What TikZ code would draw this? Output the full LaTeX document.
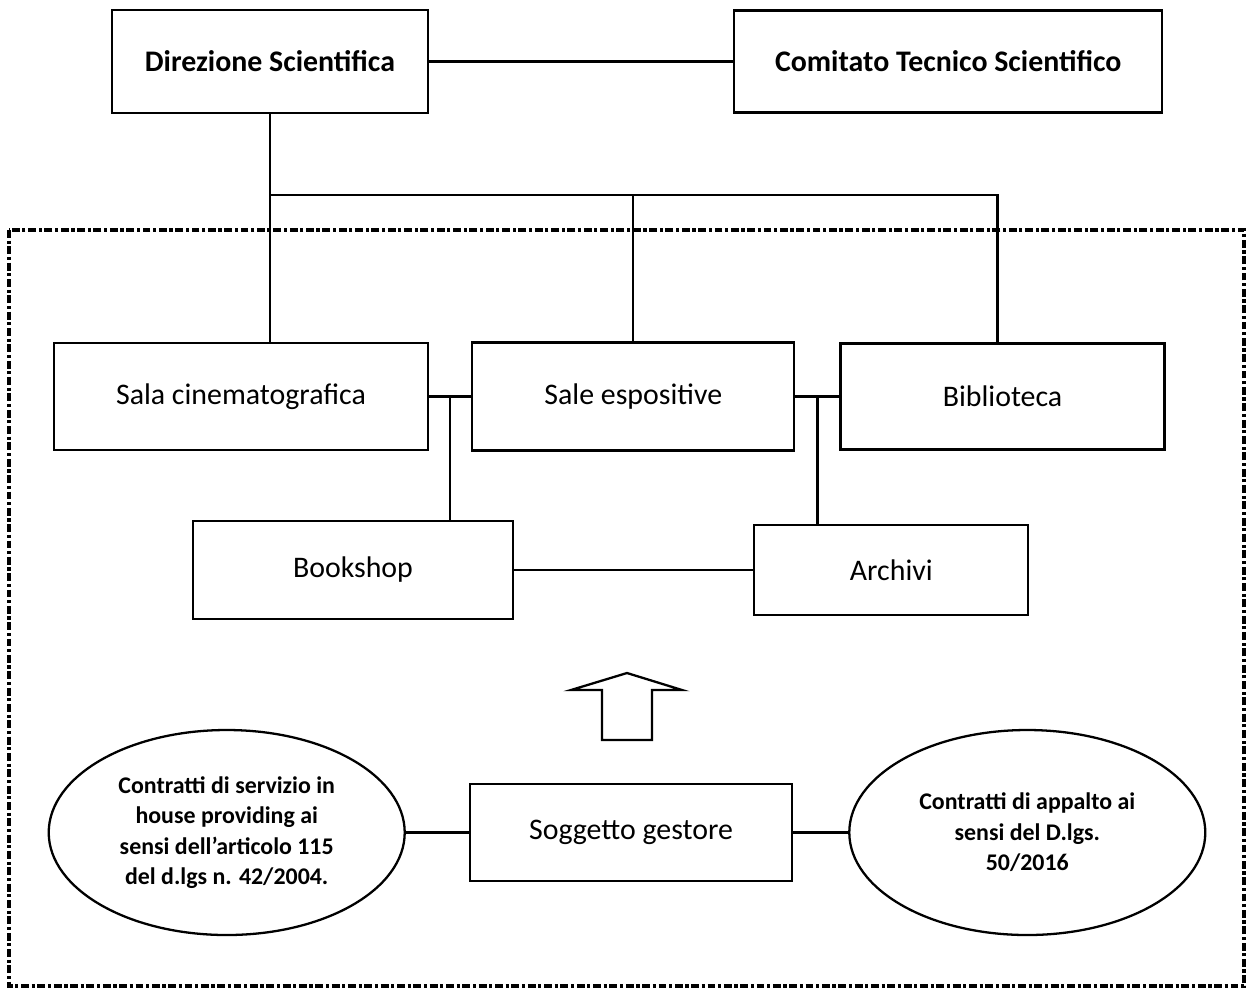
\documentclass[tikz,border=0pt]{standalone}
\usepackage{fontspec}
\setmainfont{Carlito}
\usepackage{tikz}
\usetikzlibrary{positioning,shapes.geometric,calc}

\begin{document}
\begin{tikzpicture}
    [node distance = 1cm, line width=1.3pt,
    % STYLES
    % The unit style is used to draw the boxes of the structure
    unit/.style={rectangle, draw, inner sep=5pt, font=\fontsize{17}{20}\selectfont},
    % The head style is used to draw the two boxes at the top
    head/.style={unit, font=\bfseries\fontsize{17}{20}\selectfont},
    % The contract style is used to draw the two ellipses at the bottom
    contract/.style={ellipse, draw, inner sep=0pt, minimum width=7.12cm, minimum height=4.1cm, align=center, font=\bfseries\fontsize{13.6}{17.4}\selectfont},
    % The frame style is used for the dash-dotted border
    frame/.style={line width=1.8pt, dash pattern=on 4.5pt off 1.5pt on 1.8pt off 1.5pt}]

    \useasboundingbox (0,0) rectangle (24.92,-19.76);

    % Draw heads
    \node [head, minimum width=6.32cm, minimum height=2.06cm] (ds) at (5.4,-1.23) {Direzione Scientifica};
    \node [head, minimum width=8.56cm, minimum height=2.04cm, right=6.08cm of ds] (cts) {Comitato Tecnico Scientifico};

    % Draw units
    \node [unit, minimum width=7.48cm, minimum height=2.14cm] (sc) at (4.82,-7.93) {Sala cinematografica};
    \node [unit, minimum width=6.44cm, minimum height=2.16cm, right=0.84cm of sc] (se) {Sale espositive};
    \node [unit, minimum width=6.48cm, minimum height=2.12cm, right=0.88cm of se] (bi) {Biblioteca};
    \node [unit, minimum width=6.4cm, minimum height=1.96cm] (bs) at (7.06,-11.4) {Bookshop};
    \node [unit, minimum width=5.48cm, minimum height=1.8cm, right=4.78cm of bs] (ar) {Archivi};

    % Draw the manager and its contracts
    \node [unit, minimum width=6.44cm, minimum height=1.94cm] (sg) at (12.62,-16.65) {Soggetto gestore};
    \node [contract, left=1.26cm of sg] (ch) {Contratti di servizio in\\house providing ai\\sensi dell’articolo 115\\del d.lgs n. 42/2004.};
    \node [contract, right=1.1cm of sg] (ca) {Contratti di appalto ai\\sensi del D.lgs.\\50/2016};

    \coordinate (bus) at (0,-3.9);
    \coordinate (m1) at ($(sc.east)!0.5!(se.west)$);
    \coordinate (m2) at ($(se.east)!0.5!(bi.west)$);

    \path[-]
    (ds) edge (cts)
    (sc) edge (se)
    (se) edge (bi)
    (bs) edge (ar)
    (ch) edge (sg)
    (sg) edge (ca);

    \draw (ds.south) -- (ds.south |- sc.north);
    \draw (ds.south |- bus) -| (se.north);
    \draw (se.north |- bus) -| ($(bi.north)+(-0.1,0)$);
    \draw (m1) -- (m1 |- bs.north);
    \draw (m2) -- (m2 |- ar.north);

    % Hollow arrow
    \draw (12.04,-14.8) -- (12.04,-13.8) -- (11.42,-13.8) -- (12.54,-13.46) -- (13.64,-13.8) -- (13.04,-13.8) -- (13.04,-14.8) -- cycle;

    % Border
    \draw[frame] (0.18,-4.6) rectangle (24.88,-19.72);
\end{tikzpicture}
\end{document}
